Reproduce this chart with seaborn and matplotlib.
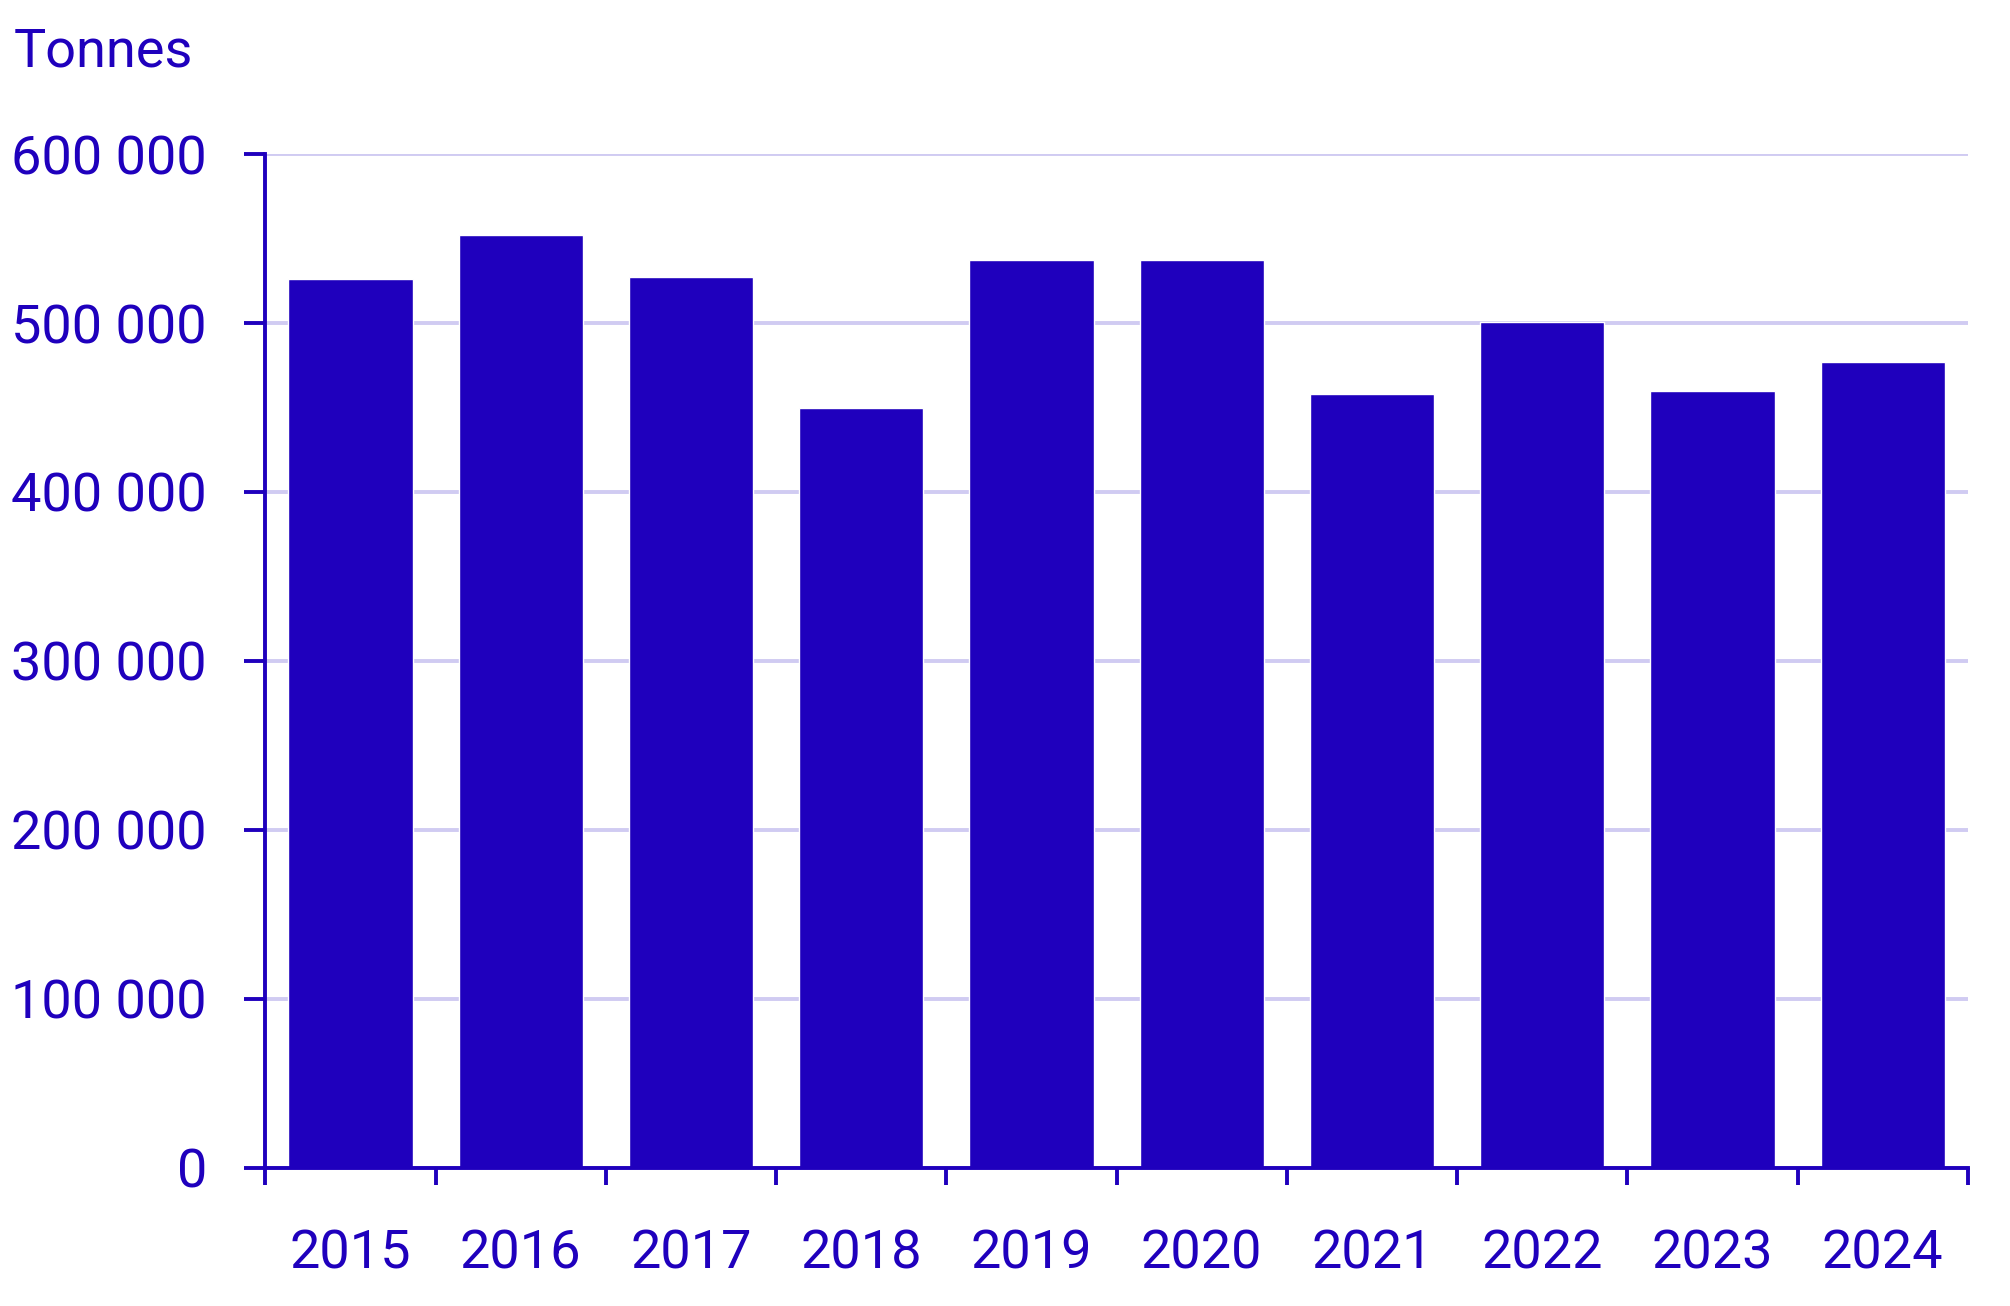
import pandas as pd
import matplotlib.pyplot as plt
import seaborn as sns

# Values
years = ['2015', '2016', '2017', '2018', '2019', '2020', '2021', '2022', '2023', '2024']
tonnes = [526000, 552000, 527500, 449500, 537500, 537500, 458000, 500500, 460000, 477000]
y_ticks = [0, 100000, 200000, 300000, 400000, 500000, 600000]
y_labels = ['0', '100 000', '200 000', '300 000', '400 000', '500 000', '600 000']

BLUE = '#1F00BD'
GRID = '#D0CBF2'


def main():
    df = pd.DataFrame({'year': years, 'tonnes': tonnes})

    sns.set_theme(style='white')
    plt.rcParams['font.family'] = ['Roboto', 'DejaVu Sans']

    fig = plt.figure(figsize=(20.1, 13.06), dpi=100)
    ax = fig.add_axes([0.132, 0.106, 0.847, 0.776])

    sns.barplot(data=df, x='year', y='tonnes', color=BLUE, saturation=1,
                width=0.73, ax=ax, zorder=3)

    ax.set_xlim(-0.5, len(years) - 0.5)
    ax.set_ylim(0, 600000)
    ax.set_yticks(y_ticks)
    ax.set_yticklabels(y_labels)
    ax.yaxis.grid(True, color=GRID, linewidth=2.8, zorder=0)
    ax.set_axisbelow(True)

    # ticks at category boundaries, labels at centres
    ax.set_xticks(range(len(years)))
    ax.set_xticklabels(years)
    ax.set_xticks([i - 0.5 for i in range(len(years) + 1)], minor=True)
    ax.tick_params(axis='x', which='major', length=0, pad=44, labelsize=39,
                   labelcolor=BLUE, bottom=True)
    ax.tick_params(axis='x', which='minor', length=12.5, width=2.8, color=BLUE,
                   direction='out', bottom=True)
    ax.tick_params(axis='y', length=15, width=2.8, color=BLUE, pad=27, labelsize=39,
                   labelcolor=BLUE, left=True)

    for side in ['top', 'right']:
        ax.spines[side].set_visible(False)
    for side in ['left', 'bottom']:
        ax.spines[side].set_color(BLUE)
        ax.spines[side].set_linewidth(2.8)
        ax.spines[side].set_zorder(4)

    ax.set_xlabel('')
    ax.set_ylabel('')

    fig.text(0.007, 0.96, 'Tonnes', color=BLUE, fontsize=39, va='center', ha='left')

    fig.savefig('out.png', dpi=100, facecolor='white')


if __name__ == '__main__':
    main()
